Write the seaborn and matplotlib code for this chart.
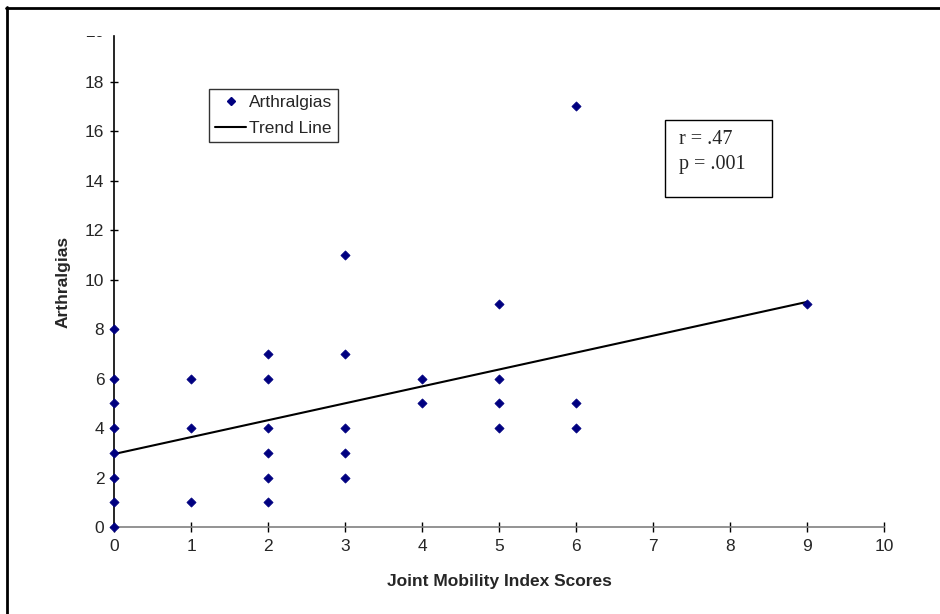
import numpy as np
import pandas as pd
import matplotlib
matplotlib.use("Agg")
import matplotlib.pyplot as plt
import matplotlib.transforms as mtransforms
from matplotlib.lines import Line2D
import seaborn as sns

# Joint mobility score vs number of arthralgias
jmi_scores = [0, 0, 0, 0, 0, 0, 0, 0,
              1, 1, 1,
              2, 2, 2, 2, 2, 2,
              3, 3, 3, 3, 3,
              4, 4,
              5, 5, 5, 5,
              6, 6, 6,
              9]
arthralgias = [0, 1, 2, 3, 4, 5, 6, 8,
               1, 4, 6,
               1, 2, 3, 4, 6, 7,
               2, 3, 4, 7, 11,
               5, 6,
               4, 5, 6, 9,
               4, 5, 17,
               9]

# trend line end points
trend_x = [0, 9]
trend_y = [2.95, 9.1]

stats_text = "r = .47\np = .001"

sns.set_style("white")
plt.rcParams['font.family'] = ['Liberation Sans', 'DejaVu Sans']

W, H = 940, 614
fig = plt.figure(figsize=(W / 100, H / 100), dpi=100)
ax = fig.add_axes([114 / W, 1 - 527 / H, (884 - 114) / W, (527 - 36) / H])

df = pd.DataFrame({'x': jmi_scores, 'y': arthralgias})
sns.scatterplot(data=df, x='x', y='y', ax=ax, marker='D', s=22,
                color='#000080', edgecolor='#000080', linewidth=0.5,
                clip_on=False, zorder=4)
trend = pd.DataFrame({'x': trend_x, 'y': trend_y})
sns.lineplot(data=trend, x='x', y='y', ax=ax, color='black', linewidth=1.5,
             zorder=3)

ax.set_xlim(0, 10)
ax.set_ylim(0, 19.85)
ax.set_xticks(np.arange(0, 11, 1))
ax.set_yticks(np.arange(0, 20, 2))
ax.set_yticks(np.arange(1, 20, 2), minor=True)

for s in ['top', 'right']:
    ax.spines[s].set_visible(False)
ax.spines['left'].set_color('black')
ax.spines['left'].set_linewidth(1.2)
ax.spines['bottom'].set_color('#808080')
ax.spines['bottom'].set_linewidth(1.2)

ax.tick_params(axis='x', direction='inout', length=7.5, width=1, color='black',
               labelsize=12.5, pad=5)
ax.tick_params(axis='y', which='major', direction='inout', length=6, width=1,
               color='black', labelsize=12.5, pad=4)
ax.tick_params(axis='y', which='minor', direction='in', length=3, width=1,
               color='black')
ax.tick_params(left=True, bottom=True)

# partially hidden "20" label at the top of the y axis
t20 = ax.text(-0.012, 20, "20", transform=ax.get_yaxis_transform(),
              ha='right', va='center', fontsize=12.5, clip_on=True)
clip = mtransforms.TransformedBbox(mtransforms.Bbox([[-0.2, -0.1], [0, 1.0]]),
                                   ax.transAxes)
t20.set_clip_box(clip)

ax.set_xlabel("Joint Mobility Index Scores", fontsize=12.5, fontweight='bold',
              labelpad=14)
ax.set_ylabel("Arthralgias", fontsize=12.5, fontweight='bold', labelpad=10)

handles = [Line2D([], [], marker='D', color='#000080', linestyle='none',
                  markersize=4),
           Line2D([], [], color='black', linewidth=1.5)]
leg = ax.legend(handles, ["Arthralgias", "Trend Line"], loc='upper left',
                bbox_to_anchor=(209 / W, 1 - 89 / H),
                bbox_transform=fig.transFigure, borderaxespad=0,
                fontsize=12.5, frameon=True, fancybox=False, handlelength=1.8,
                handletextpad=0.15, borderpad=0.35, labelspacing=0.6)
leg.get_frame().set_edgecolor('black')
leg.get_frame().set_linewidth(1)

# stats box
fig.patches.append(plt.Rectangle((665 / W, 1 - 197 / H), (772 - 665) / W,
                                 (197 - 120) / H, transform=fig.transFigure,
                                 fill=False, edgecolor='black', linewidth=1))
fig.text(679 / W, 1 - 152 / H, stats_text, fontsize=14.5,
         family=['Liberation Serif', 'DejaVu Serif'], va='center', ha='left',
         linespacing=1.4)

# outer frame (top and left edges visible)
fig.add_artist(Line2D([6 / W, 1], [1 - 8 / H, 1 - 8 / H],
                      transform=fig.transFigure, color='black', linewidth=2))
fig.add_artist(Line2D([7 / W, 7 / W], [0, 1 - 7 / H],
                      transform=fig.transFigure, color='black', linewidth=2))

fig.savefig("out.png", dpi=100)
